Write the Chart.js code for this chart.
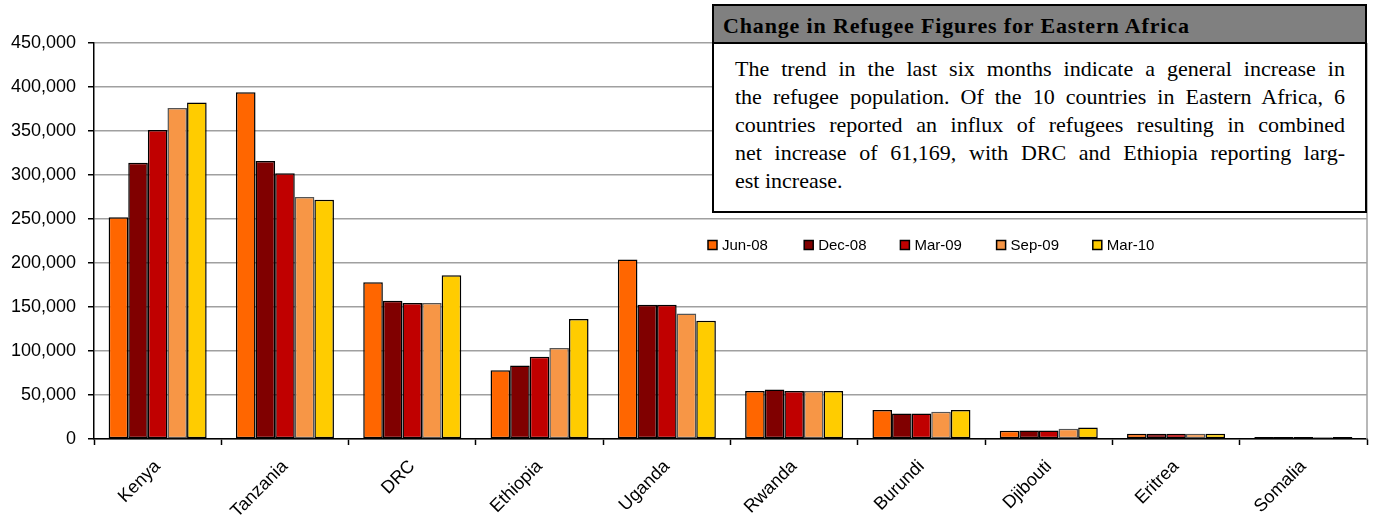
<!DOCTYPE html>
<html>
<head>
<meta charset="utf-8">
<script src="https://cdn.jsdelivr.net/npm/chart.js@4.4.0/dist/chart.umd.min.js"></script>
<style>
  html, body { margin: 0; padding: 0; background: #fff; }
  #wrap { position: relative; width: 1377px; height: 523px; }
  #c { position: absolute; left: 0; top: 0; }
  #box { position: absolute; left: 712px; top: 4px; width: 651px; height: 205px;
         border: 2px solid #000; background: #fff; box-sizing: content-box; }
  #box .hd { background: #808080; height: 36px; border-bottom: 2px solid #000;
             font-family: "Liberation Serif", "Times New Roman", serif; font-weight: bold;
             font-size: 22px; letter-spacing: 0.85px; line-height: 40px; padding-left: 9px;
             color: #000; white-space: nowrap; }
  #box .bd { font-family: "Liberation Serif", "Times New Roman", serif; font-size: 22px;
             line-height: 28px; padding: 11px 0 0 21px; width: 610px; color: #000; }
  #box .bd div { white-space: nowrap; text-align: justify; text-align-last: justify; }
  #box .bd div.last { text-align: left; text-align-last: left; }
</style>
</head>
<body>
<div id="wrap">
  <canvas id="c" width="1377" height="523"></canvas>
  <div id="box">
    <div class="hd">Change in Refugee Figures for Eastern Africa</div>
    <div class="bd">
      <div>The trend in the last six months indicate a general increase in</div>
      <div>the refugee population. Of the 10 countries in Eastern Africa, 6</div>
      <div>countries reported an influx of refugees resulting in combined</div>
      <div>net increase of 61,169, with DRC and Ethiopia reporting larg-</div>
      <div class="last">est increase.</div>
    </div>
  </div>
</div>
<script>
const categories = ["Kenya", "Tanzania", "DRC", "Ethiopia", "Uganda", "Rwanda", "Burundi", "Djibouti", "Eritrea", "Somalia"];
const seriesLabels = ["Jun-08", "Dec-08", "Mar-09", "Sep-09", "Mar-10"];
const jun08 = [252000, 394000, 178000, 78000, 204000, 54500, 33000, 9500, 6000, 2200];
const dec08 = [314000, 316000, 157000, 83500, 152500, 56300, 29000, 9800, 6000, 2200];
const mar09 = [351000, 302000, 154500, 93500, 152500, 54500, 29000, 9800, 6000, 2200];
const sep09 = [376000, 275000, 154500, 103500, 142500, 54500, 31000, 11700, 6000, 2000];
const mar10 = [382500, 272000, 186000, 136500, 134500, 54500, 33000, 13200, 6000, 2200];
const yTicks = [0, 50000, 100000, 150000, 200000, 250000, 300000, 350000, 400000, 450000];

const fills = ["#FF6600", "#800000", "#C00000", "#F79646", "#FFCC00"];
const borders = ["#000000", "#000000", "#000000", "#555555", "#000000"];
const values = [jun08, dec08, mar09, sep09, mar10];

const datasets = seriesLabels.map((lab, i) => ({
  label: lab,
  data: values[i],
  backgroundColor: fills[i],
  borderColor: borders[i],
  borderWidth: 1.5,
  borderSkipped: false,
  categoryPercentage: 0.77,
  barPercentage: 1.0
}));

const framePlugin = {
  id: 'frame',
  afterDraw(chart) {
    const { ctx, chartArea } = chart;
    ctx.save();
    ctx.strokeStyle = '#A0A0A0';
    ctx.lineWidth = 1.5;
    ctx.beginPath();
    ctx.moveTo(chartArea.right, chartArea.top);
    ctx.lineTo(chartArea.right, chartArea.bottom);
    ctx.stroke();
    ctx.restore();
  }
};

const legendPlugin = {
  id: 'customLegend',
  afterDraw(chart) {
    const ctx = chart.ctx;
    const x0 = 708, y0 = 245, step = 96.2, box = 9;
    ctx.save();
    ctx.font = '15px "Liberation Sans", Arial, sans-serif';
    ctx.textBaseline = 'middle';
    chart.data.datasets.forEach((ds, i) => {
      const x = x0 + i * step;
      ctx.fillStyle = ds.backgroundColor;
      ctx.fillRect(x, y0 - box / 2, box, box);
      ctx.strokeStyle = '#000';
      ctx.lineWidth = 1.5;
      ctx.strokeRect(x, y0 - box / 2, box, box);
      ctx.fillStyle = '#000';
      ctx.fillText(ds.label, x + 14, y0 + 1);
    });
    ctx.restore();
  }
};

new Chart(document.getElementById('c'), {
  type: 'bar',
  data: { labels: categories, datasets },
  options: {
    responsive: false,
    animation: false,
    devicePixelRatio: 1,
    layout: { padding: { left: 0, top: 43, right: 10, bottom: 0 } },
    plugins: { legend: { display: false }, tooltip: { enabled: false } },
    scales: {
      x: {
        grid: { display: true, offset: true, drawOnChartArea: false, drawTicks: true,
                tickLength: 6, tickColor: '#000', tickWidth: 1.5 },
        border: { display: true, color: '#000', width: 1.5 },
        ticks: { minRotation: 45, maxRotation: 45, color: '#000', padding: 11,
                 font: { family: '"Liberation Sans", Arial, sans-serif', size: 18 } },
        afterFit(scale) { scale.height = 84; }
      },
      y: {
        min: 0, max: 450000,
        afterBuildTicks(scale) { scale.ticks = yTicks.map(v => ({ value: v })); },
        grid: { color: '#A0A0A0', lineWidth: 1.5, drawTicks: true, tickLength: 6,
                tickColor: '#000', tickWidth: 1.5 },
        border: { display: true, color: '#000', width: 1.5 },
        ticks: { color: '#000', padding: 12,
                 font: { family: '"Liberation Sans", Arial, sans-serif', size: 18 },
                 callback: v => v.toLocaleString('en-US') },
        afterFit(scale) { scale.width = 94; }
      }
    }
  },
  plugins: [framePlugin, legendPlugin]
});
</script>
</body>
</html>
